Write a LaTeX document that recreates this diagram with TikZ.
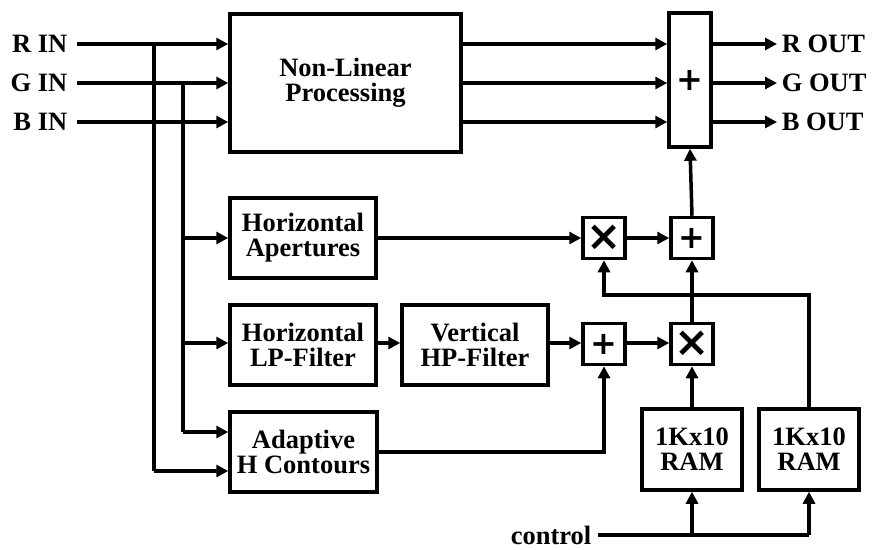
\documentclass[tikz,border=0pt]{standalone}
\usepackage{fontspec}
\setmainfont{Liberation Serif}
\newfontfamily\symfont{DejaVu Sans}
\usetikzlibrary{arrows.meta}
\begin{document}
\begin{tikzpicture}[x=1pt,y=-1pt,
  line width=3.5pt,
  every node/.style={font=\fontsize{26.5}{25}\selectfont\bfseries},
  blk/.style={draw,rectangle,align=center,inner sep=0pt},
  sym/.style={font=\symfont\fontsize{32}{32}\selectfont\bfseries},
  bigsym/.style={font=\symfont\fontsize{42}{42}\selectfont\bfseries},
  opbox/.style={draw,rectangle,inner sep=0pt,minimum width=42pt,minimum height=41pt,sym},
  lbl/.style={inner sep=0pt},
  arr/.style={-{Triangle[length=12pt,width=12pt]}}]
\useasboundingbox (0,0) rectangle (875,549);
% blocks
\node[blk,minimum width=231pt,minimum height=138pt] (nlp) at (345.5,83) {Non-Linear\\Processing};
\node[blk,minimum width=42pt,minimum height=134pt,sym] (sum) at (690,80) {+};
\node[blk,minimum width=146pt,minimum height=80pt] (ha) at (303,238) {Horizontal\\Apertures};
\node[blk,minimum width=146pt,minimum height=80pt] (hlp) at (303,345) {Horizontal\\LP-Filter};
\node[blk,minimum width=146pt,minimum height=80pt] (vhp) at (475,345) {Vertical\\HP-Filter};
\node[blk,minimum width=147pt,minimum height=80pt] (ahc) at (303.5,452) {Adaptive\\H Contours};
\node[opbox,bigsym] (mula) at (604,238) {×};
\node[opbox] (adda) at (692,238) {+};
\node[opbox] (addb) at (604,344) {+};
\node[opbox,bigsym] (mulb) at (692,344) {×};
\node[blk,minimum width=100pt,minimum height=81pt] (ram1) at (692,449.5) {1Kx10\\RAM};
\node[blk,minimum width=100pt,minimum height=81pt] (ram2) at (809,449.5) {1Kx10\\RAM};
% labels
\node[lbl,anchor=east] (rin) at (69,44) {R IN};
\node[lbl,anchor=east] (gin) at (69,83) {G IN};
\node[lbl,anchor=east] (bin) at (69,122) {B IN};
\node[lbl,anchor=west] (rout) at (780,44) {R OUT};
\node[lbl,anchor=west] (gout) at (780,83) {G OUT};
\node[lbl,anchor=west] (bout) at (780,122) {B OUT};
\node[lbl,anchor=east] (ctrl) at (593,535) {control};
% helper coordinates
\coordinate (rs) at (77,44);
\coordinate (gs) at (77,83);
\coordinate (bs) at (77,122);
\coordinate (xr) at (154,0);
\coordinate (xg) at (183,0);
\coordinate (oe) at (777,0);
\coordinate (fbk) at (0,295);
\coordinate (cs) at (598,535);
% inputs
\draw[arr] (rs) -- (rs -| nlp.west);
\draw[arr] (gs) -- (gs -| nlp.west);
\draw[arr] (bs) -- (bs -| nlp.west);
% branches
\draw (xr |- rs) -- (xr |- 0,471);
\draw[arr] (xr |- 0,471) -- (ahc.west |- 0,471);
\draw (xg |- gs) -- (xg |- 0,432);
\draw[arr] (xg |- 0,432) -- (ahc.west |- 0,432);
\draw[arr] (xg |- ha.west) -- (ha.west);
\draw[arr] (xg |- 0,343) -- (hlp.west |- 0,343);
% NLP to sum
\draw[arr] (nlp.east |- rs) -- (sum.west |- rs);
\draw[arr] (nlp.east |- gs) -- (sum.west |- gs);
\draw[arr] (nlp.east |- bs) -- (sum.west |- bs);
% outputs
\draw[arr] (sum.east |- rs) -- (oe |- rs);
\draw[arr] (sum.east |- gs) -- (oe |- gs);
\draw[arr] (sum.east |- bs) -- (oe |- bs);
% aperture path
\draw[arr] (ha.east) -- (mula.west);
\draw[arr] (mula.east) -- (adda.west);
\draw[arr] (adda.north) -- (sum.south);
\draw[arr] (hlp.east |- 0,343) -- (vhp.west |- 0,343);
\draw[arr] (vhp.east |- 0,343) -- (addb.west |- 0,343);
\draw[arr] (addb.east |- 0,343) -- (mulb.west |- 0,343);
\draw[arr] (ahc.east) -| (addb.south);
\draw[arr] (mulb.north) -- (adda.south);
\draw[arr] (ram1.north) -- (mulb.south);
\draw[arr] (ram2.north) -- (ram2.north |- fbk) -- (mula.south |- fbk) -- (mula.south);
% control
\draw (cs) -- (cs -| ram2.south);
\draw[arr] (cs -| ram2.south) -- (ram2.south);
\draw[arr] (cs -| ram1.south) -- (ram1.south);
\end{tikzpicture}
\end{document}
